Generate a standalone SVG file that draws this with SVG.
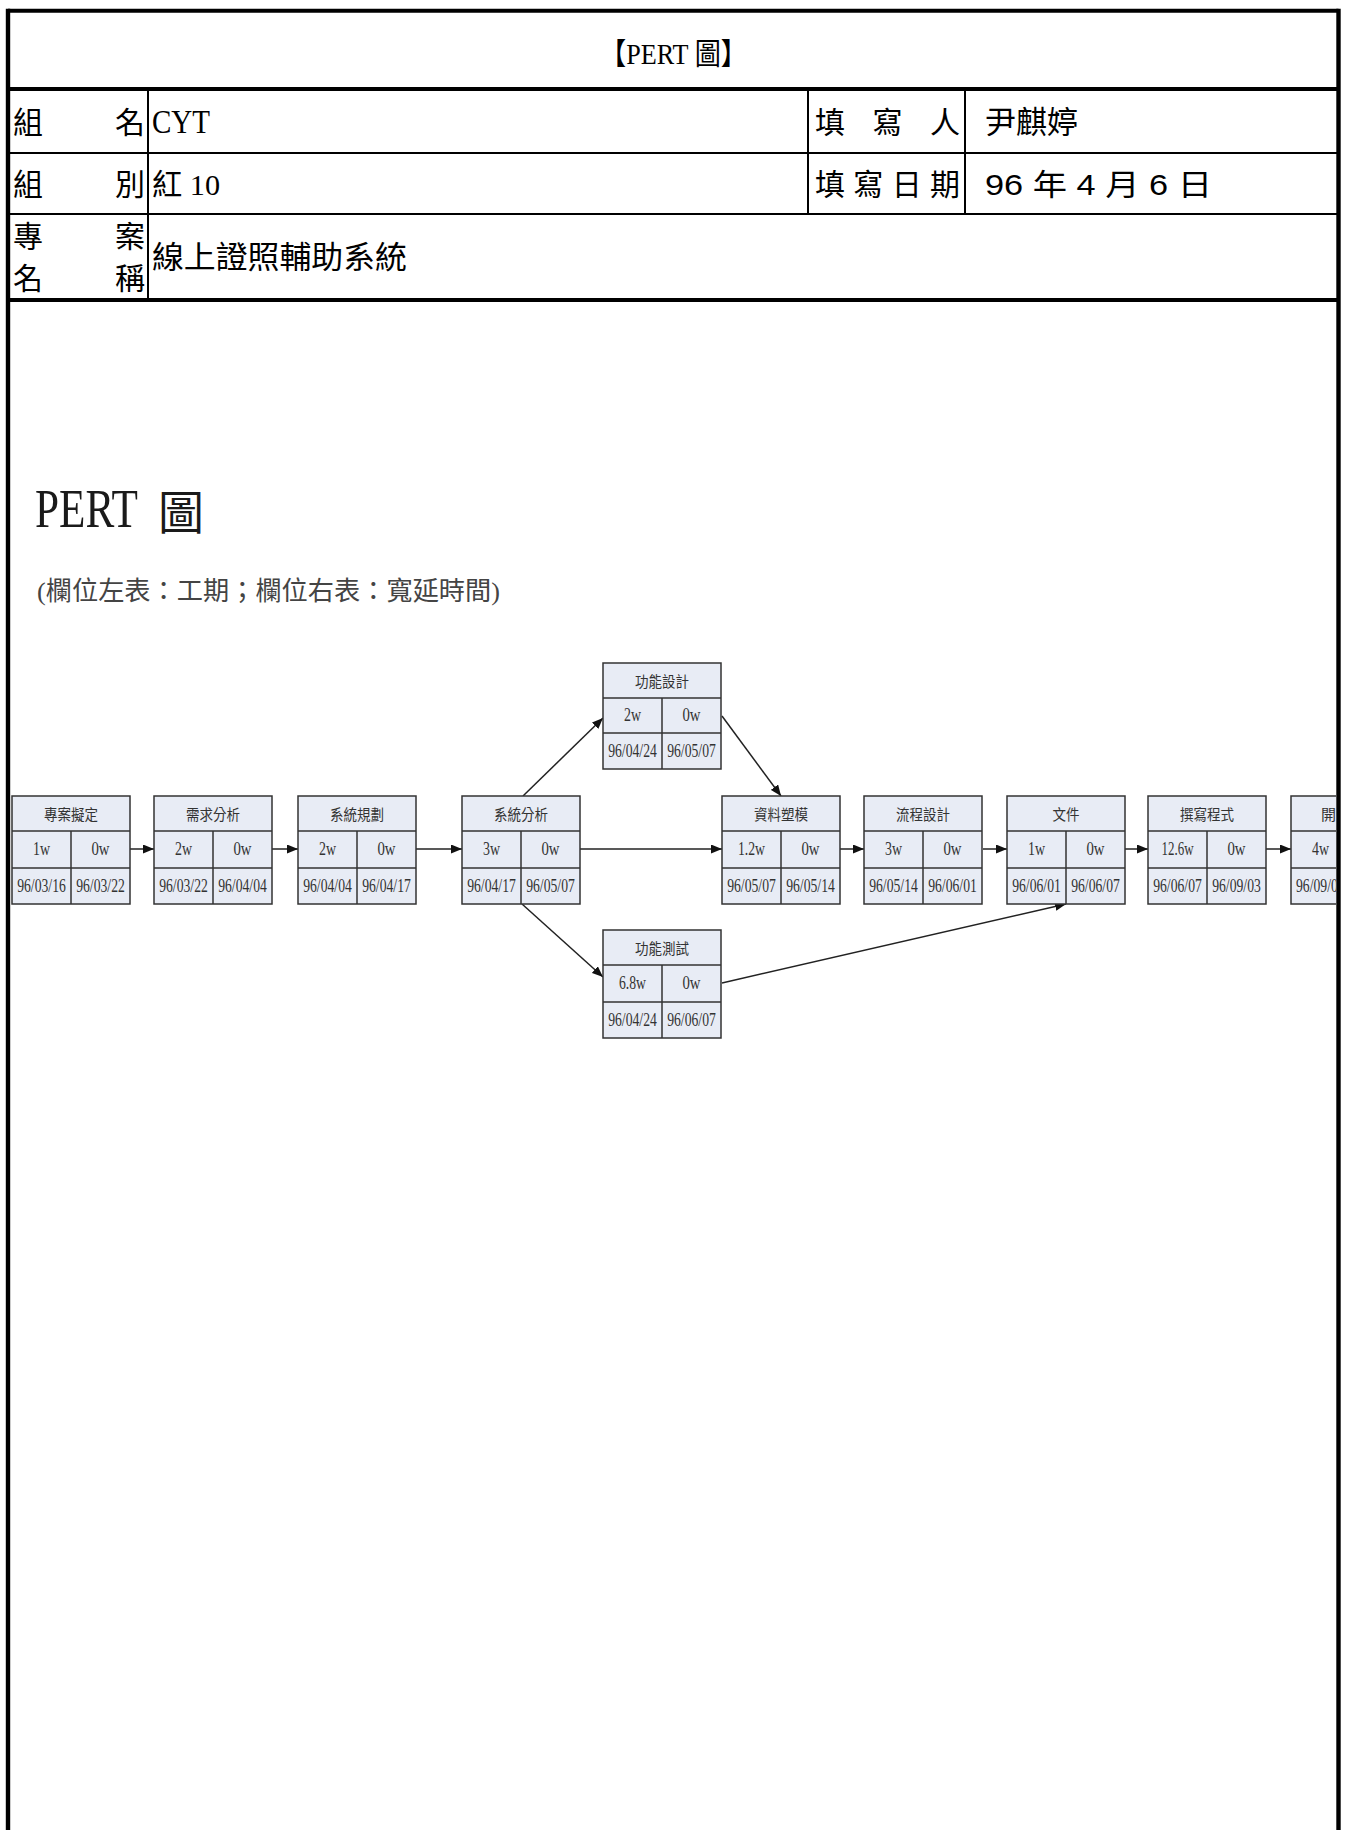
<svg xmlns="http://www.w3.org/2000/svg" width="1348" height="1830" viewBox="0 0 1348 1830">
<style>
.cjk{font-family:"Noto Sans CJK TC","Noto Sans CJK SC",sans-serif;fill:#000}
.mix{font-family:"Liberation Serif","Noto Sans CJK TC",serif;fill:#000}
.mixs{font-family:"Liberation Sans","Noto Sans CJK TC",sans-serif;fill:#000}
.nbox{fill:#e8ecf5;stroke:#333;stroke-width:1.5}
.ngrid{stroke:#333;stroke-width:1.5}
.nt{font-family:"Noto Sans CJK TC",sans-serif;font-size:15px;fill:#333;text-anchor:middle}
.nv{font-family:"Liberation Serif",serif;font-size:18px;fill:#333;text-anchor:middle}
.nd{font-family:"Liberation Serif",serif;font-size:19px;fill:#333;text-anchor:middle}
</style>
<defs>
<marker id="ah" markerWidth="11" markerHeight="9" refX="11" refY="4.5" orient="auto" markerUnits="userSpaceOnUse">
<path d="M0,0 L11,4.5 L0,9 z" fill="#111"/>
</marker>
<clipPath id="pageclip"><rect x="10" y="300" width="1326" height="1530"/></clipPath>
</defs>
<rect width="1348" height="1830" fill="#fff"/>

<g id="form-table" stroke="#000" fill="none">
<line x1="8" y1="10.7" x2="1338.5" y2="10.7" stroke-width="4"/>
<line x1="8" y1="8.7" x2="8" y2="1830" stroke-width="4.4"/>
<line x1="1338.5" y1="8.7" x2="1338.5" y2="1830" stroke-width="4.4"/>
<line x1="8" y1="89" x2="1338.5" y2="89" stroke-width="4"/>
<line x1="8" y1="153" x2="1338.5" y2="153" stroke-width="2"/>
<line x1="8" y1="214" x2="1338.5" y2="214" stroke-width="2"/>
<line x1="8" y1="300" x2="1338.5" y2="300" stroke-width="4"/>
<line x1="148" y1="89" x2="148" y2="300" stroke-width="2"/>
<line x1="808" y1="89" x2="808" y2="214" stroke-width="2"/>
<line x1="965" y1="89" x2="965" y2="214" stroke-width="2"/>
</g>

<g id="form-text">
<text class="mix" x="600" y="64" font-size="30" textLength="147" lengthAdjust="spacingAndGlyphs">【PERT 圖】</text>
<text class="cjk" x="13" y="133" font-size="30">組</text>
<text class="cjk" x="145" y="133" font-size="30" text-anchor="end">名</text>
<text class="mix" x="152" y="133" font-size="33" textLength="58" lengthAdjust="spacingAndGlyphs">CYT</text>
<text class="cjk" x="815" y="133" font-size="30" textLength="145" lengthAdjust="spacing">填 寫 人</text>
<text class="cjk" x="985" y="133" font-size="31">尹麒婷</text>
<text class="cjk" x="13" y="195" font-size="30">組</text>
<text class="cjk" x="145" y="195" font-size="30" text-anchor="end">別</text>
<text class="mix" x="152" y="195" font-size="30" textLength="68" lengthAdjust="spacingAndGlyphs">紅 10</text>
<text class="cjk" x="815" y="195" font-size="30" textLength="145" lengthAdjust="spacing">填寫日期</text>
<text class="mixs" x="985" y="195" font-size="30" textLength="227" lengthAdjust="spacingAndGlyphs">96 年 4 月 6 日</text>
<text class="cjk" x="13" y="247" font-size="30">專</text>
<text class="cjk" x="145" y="247" font-size="30" text-anchor="end">案</text>
<text class="cjk" x="13" y="289" font-size="30">名</text>
<text class="cjk" x="145" y="289" font-size="30" text-anchor="end">稱</text>
<text class="cjk" x="152" y="268" font-size="31" textLength="255" lengthAdjust="spacingAndGlyphs">線上證照輔助系統</text>
</g>

<g id="pert-title">
<text font-family="Liberation Serif,serif" font-size="54" fill="#1a1a1a" transform="translate(35,527) scale(0.8,1)">PERT</text>
<text x="158" y="529" font-family="Noto Sans CJK TC,sans-serif" font-size="46" fill="#1a1a1a">圖</text>
<text x="37" y="600" font-family="Liberation Serif,Noto Sans CJK TC,serif" font-size="26" fill="#444" textLength="463" lengthAdjust="spacingAndGlyphs">(欄位左表：工期；欄位右表：寬延時間)</text>
</g>

<g id="connectors" stroke="#222" stroke-width="1.5" fill="none" marker-end="url(#ah)">
<line x1="130" y1="849" x2="154" y2="849"/>
<line x1="272" y1="849" x2="298" y2="849"/>
<line x1="416" y1="849" x2="462" y2="849"/>
<line x1="580" y1="849" x2="722" y2="849"/>
<line x1="840" y1="849" x2="864" y2="849"/>
<line x1="983" y1="849" x2="1007" y2="849"/>
<line x1="1125" y1="849" x2="1148" y2="849"/>
<line x1="1266" y1="849" x2="1291" y2="849"/>
<line x1="523" y1="796" x2="603" y2="718"/>
<line x1="522" y1="904" x2="603" y2="977"/>
<line x1="722" y1="716" x2="781" y2="796"/>
<line x1="722" y1="983" x2="1066" y2="904"/>
</g>

<g id="n1" transform="translate(12,796)">
<rect class="nbox" width="118" height="108"/><path class="ngrid" d="M0,35H118M0,72H118M59,35V108"/>
<text class="nt" x="59" y="24" textLength="54" lengthAdjust="spacingAndGlyphs">專案擬定</text>
<text class="nv" x="29.5" y="59" textLength="17" lengthAdjust="spacingAndGlyphs">1w</text><text class="nv" x="88.5" y="59" textLength="18" lengthAdjust="spacingAndGlyphs">0w</text>
<text class="nd" transform="translate(29.5,96) scale(0.72,1)">96/03/16</text><text class="nd" transform="translate(88.5,96) scale(0.72,1)">96/03/22</text>
</g>
<g id="n2" transform="translate(154,796)">
<rect class="nbox" width="118" height="108"/><path class="ngrid" d="M0,35H118M0,72H118M59,35V108"/>
<text class="nt" x="59" y="24" textLength="54" lengthAdjust="spacingAndGlyphs">需求分析</text>
<text class="nv" x="29.5" y="59" textLength="17" lengthAdjust="spacingAndGlyphs">2w</text><text class="nv" x="88.5" y="59" textLength="18" lengthAdjust="spacingAndGlyphs">0w</text>
<text class="nd" transform="translate(29.5,96) scale(0.72,1)">96/03/22</text><text class="nd" transform="translate(88.5,96) scale(0.72,1)">96/04/04</text>
</g>
<g id="n3" transform="translate(298,796)">
<rect class="nbox" width="118" height="108"/><path class="ngrid" d="M0,35H118M0,72H118M59,35V108"/>
<text class="nt" x="59" y="24" textLength="54" lengthAdjust="spacingAndGlyphs">系統規劃</text>
<text class="nv" x="29.5" y="59" textLength="17" lengthAdjust="spacingAndGlyphs">2w</text><text class="nv" x="88.5" y="59" textLength="18" lengthAdjust="spacingAndGlyphs">0w</text>
<text class="nd" transform="translate(29.5,96) scale(0.72,1)">96/04/04</text><text class="nd" transform="translate(88.5,96) scale(0.72,1)">96/04/17</text>
</g>
<g id="n4" transform="translate(462,796)">
<rect class="nbox" width="118" height="108"/><path class="ngrid" d="M0,35H118M0,72H118M59,35V108"/>
<text class="nt" x="59" y="24" textLength="54" lengthAdjust="spacingAndGlyphs">系統分析</text>
<text class="nv" x="29.5" y="59" textLength="17" lengthAdjust="spacingAndGlyphs">3w</text><text class="nv" x="88.5" y="59" textLength="18" lengthAdjust="spacingAndGlyphs">0w</text>
<text class="nd" transform="translate(29.5,96) scale(0.72,1)">96/04/17</text><text class="nd" transform="translate(88.5,96) scale(0.72,1)">96/05/07</text>
</g>
<g id="n5" transform="translate(603,663)">
<rect class="nbox" width="118" height="106"/><path class="ngrid" d="M0,35H118M0,70H118M59,35V106"/>
<text class="nt" x="59" y="24" textLength="54" lengthAdjust="spacingAndGlyphs">功能設計</text>
<text class="nv" x="29.5" y="58" textLength="17" lengthAdjust="spacingAndGlyphs">2w</text><text class="nv" x="88.5" y="58" textLength="18" lengthAdjust="spacingAndGlyphs">0w</text>
<text class="nd" transform="translate(29.5,94) scale(0.72,1)">96/04/24</text><text class="nd" transform="translate(88.5,94) scale(0.72,1)">96/05/07</text>
</g>
<g id="n6" transform="translate(603,930)">
<rect class="nbox" width="118" height="108"/><path class="ngrid" d="M0,35H118M0,72H118M59,35V108"/>
<text class="nt" x="59" y="24" textLength="54" lengthAdjust="spacingAndGlyphs">功能測試</text>
<text class="nv" x="29.5" y="59" textLength="27" lengthAdjust="spacingAndGlyphs">6.8w</text><text class="nv" x="88.5" y="59" textLength="18" lengthAdjust="spacingAndGlyphs">0w</text>
<text class="nd" transform="translate(29.5,96) scale(0.72,1)">96/04/24</text><text class="nd" transform="translate(88.5,96) scale(0.72,1)">96/06/07</text>
</g>
<g id="n7" transform="translate(722,796)">
<rect class="nbox" width="118" height="108"/><path class="ngrid" d="M0,35H118M0,72H118M59,35V108"/>
<text class="nt" x="59" y="24" textLength="54" lengthAdjust="spacingAndGlyphs">資料塑模</text>
<text class="nv" x="29.5" y="59" textLength="27" lengthAdjust="spacingAndGlyphs">1.2w</text><text class="nv" x="88.5" y="59" textLength="18" lengthAdjust="spacingAndGlyphs">0w</text>
<text class="nd" transform="translate(29.5,96) scale(0.72,1)">96/05/07</text><text class="nd" transform="translate(88.5,96) scale(0.72,1)">96/05/14</text>
</g>
<g id="n8" transform="translate(864,796)">
<rect class="nbox" width="118" height="108"/><path class="ngrid" d="M0,35H118M0,72H118M59,35V108"/>
<text class="nt" x="59" y="24" textLength="54" lengthAdjust="spacingAndGlyphs">流程設計</text>
<text class="nv" x="29.5" y="59" textLength="17" lengthAdjust="spacingAndGlyphs">3w</text><text class="nv" x="88.5" y="59" textLength="18" lengthAdjust="spacingAndGlyphs">0w</text>
<text class="nd" transform="translate(29.5,96) scale(0.72,1)">96/05/14</text><text class="nd" transform="translate(88.5,96) scale(0.72,1)">96/06/01</text>
</g>
<g id="n9" transform="translate(1007,796)">
<rect class="nbox" width="118" height="108"/><path class="ngrid" d="M0,35H118M0,72H118M59,35V108"/>
<text class="nt" x="59" y="24" textLength="27" lengthAdjust="spacingAndGlyphs">文件</text>
<text class="nv" x="29.5" y="59" textLength="17" lengthAdjust="spacingAndGlyphs">1w</text><text class="nv" x="88.5" y="59" textLength="18" lengthAdjust="spacingAndGlyphs">0w</text>
<text class="nd" transform="translate(29.5,96) scale(0.72,1)">96/06/01</text><text class="nd" transform="translate(88.5,96) scale(0.72,1)">96/06/07</text>
</g>
<g id="n10" transform="translate(1148,796)">
<rect class="nbox" width="118" height="108"/><path class="ngrid" d="M0,35H118M0,72H118M59,35V108"/>
<text class="nt" x="59" y="24" textLength="54" lengthAdjust="spacingAndGlyphs">撰寫程式</text>
<text class="nv" x="29.5" y="59" textLength="32" lengthAdjust="spacingAndGlyphs">12.6w</text><text class="nv" x="88.5" y="59" textLength="18" lengthAdjust="spacingAndGlyphs">0w</text>
<text class="nd" transform="translate(29.5,96) scale(0.72,1)">96/06/07</text><text class="nd" transform="translate(88.5,96) scale(0.72,1)">96/09/03</text>
</g>
<g id="n11" clip-path="url(#pageclip)">
<g transform="translate(1291,796)">
<rect class="nbox" width="118" height="108"/><path class="ngrid" d="M0,35H118M0,72H118M59,35V108"/>
<text x="30" y="24" font-family="Noto Sans CJK TC,sans-serif" font-size="15" fill="#333">開</text>
<text class="nv" x="29.5" y="59" textLength="17" lengthAdjust="spacingAndGlyphs">4w</text>
<text font-family="Liberation Serif,serif" font-size="19" fill="#333" transform="translate(5,96) scale(0.72,1)">96/09/0</text>
</g>
</g>
</svg>
